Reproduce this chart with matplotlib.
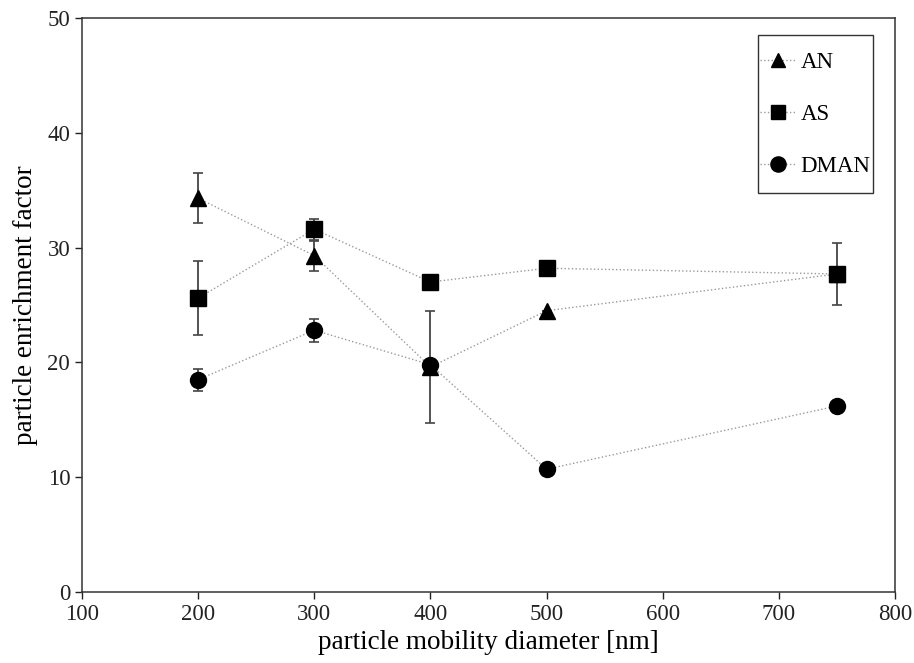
import numpy as np
import matplotlib.pyplot as plt
from matplotlib.patches import Rectangle

# datos
diametro = [200, 300, 400, 500, 750]

an = [34.3, 29.3, 19.6, 24.5, 27.7]
an_err = [2.2, 1.3, 4.9, 0.0, 0.0]

as_ = [25.6, 31.6, 27.0, 28.2, 27.7]
as_err = [3.2, 0.9, 0.0, 0.0, 2.7]

dman = [18.5, 22.8, 19.8, 10.7, 16.2]
dman_err = [0.95, 1.0, 0.0, 0.0, 0.0]

plt.rcParams['font.family'] = ['Liberation Serif', 'DejaVu Serif']

fig = plt.figure(figsize=(9.14, 6.63), dpi=100)
ax = fig.add_axes([0.0897, 0.107, 0.8895, 0.866])

series = [
    (an, an_err, '^', 11, 'AN'),
    (as_, as_err, 's', 11, 'AS'),
    (dman, dman_err, 'o', 11.5, 'DMAN'),
]

for y, err, m, ms, lab in series:
    ax.errorbar(
        diametro, y, yerr=err,
        fmt='none', ecolor='#444444', elinewidth=1.3,
        capsize=3.5, capthick=1.2, zorder=2
    )
    ax.plot(
        diametro, y,
        linestyle=':', color='#9a9a9a', linewidth=1.0,
        marker=m, markersize=ms, markerfacecolor='black',
        markeredgecolor='black', label=lab, zorder=3
    )

ax.set_xlim(100, 800)
ax.set_ylim(0, 50)
ax.set_xticks(np.arange(100, 801, 100))
ax.set_yticks(np.arange(0, 51, 10))

ax.tick_params(direction='out', length=5, width=1, labelsize=16.5, colors='#222222')
for s in ax.spines.values():
    s.set_color('#333333')
    s.set_linewidth(1.1)

ax.set_xlabel("particle mobility diameter [nm]", fontsize=19.5, labelpad=4)
ax.set_ylabel("particle enrichment factor", fontsize=19.5, labelpad=7)

# leyenda sin marco + caja dibujada aparte
leg = ax.legend(
    loc='center', bbox_to_anchor=(0.902, 0.832),
    borderaxespad=0, fontsize=16.5, frameon=False,
    handlelength=1.55, labelspacing=1.35,
    borderpad=0, handletextpad=0.2, markerscale=0.95
)
caja = Rectangle((0.8315, 0.695), 0.1415, 0.275, transform=ax.transAxes,
                 fill=False, edgecolor='#333333', linewidth=1.0, zorder=5)
ax.add_patch(caja)

plt.savefig("out.png", dpi=100)
